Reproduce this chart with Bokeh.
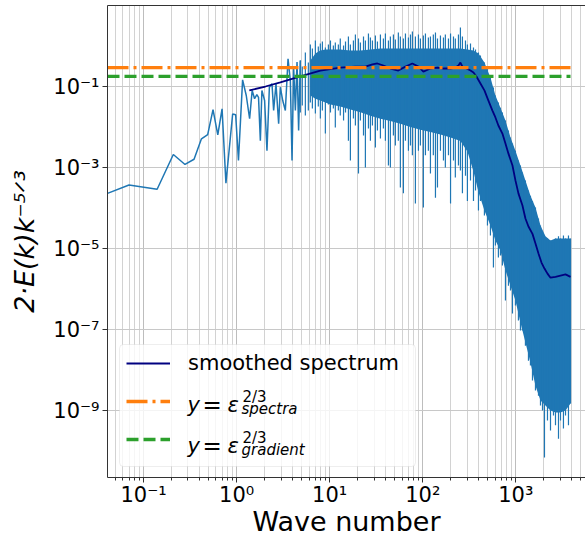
from bokeh.plotting import figure
from bokeh.models import (Range1d, LogAxis, FixedTicker, CustomJSTickFormatter,
                          Legend, LegendItem, Label, BoxAnnotation)
from bokeh.embed import file_html
from bokeh.resources import INLINE

# ---------------- data ----------------
# sparse low-wavenumber part of the raw spectrum
SPEC_LOW_K = [0.041, 0.0698, 0.140, 0.209, 0.279, 0.349, 0.419, 0.489, 0.558, 0.628,
              0.698, 0.768, 0.907, 0.977, 1.047, 1.16, 1.27, 1.38, 1.47, 1.56,
              1.65, 1.72, 1.80, 1.87, 2.00, 2.12, 2.25, 2.40, 2.50, 2.65,
              2.83, 2.95, 3.13, 3.34, 3.57, 3.78, 3.94, 4.10, 4.28, 4.46, 4.64]
SPEC_LOW_E = [2.3e-4, 3.7e-4, 2.9e-4, 2.1e-3, 1.19e-3, 1.6e-3, 5.1e-3, 6.5e-3, 2.7e-2, 6.4e-3,
              2.8e-2, 4.1e-4, 2.1e-2, 2.0e-2, 1.5e-3, 0.146, 0.06, 1.6e-2, 8.0e-2, 5.0e-2,
              6.3e-2, 5.4e-2, 4.6e-3, 8.0e-2, 4.5e-2, 2.6e-3, 9.6e-2, 0.117, 2.55e-2, 0.117,
              1.2e-2, 9.6e-2, 4.5e-2, 2.55e-2, 0.48, 0.14, 1.5e-3, 0.30, 2.55e-2, 0.40, 8.2e-3]

# dense part of the raw spectrum: local maxima / minima of the noisy curve
DENSE_K = [4.84, 5.08, 5.48, 5.90, 6.20, 6.52, 7.02, 7.55, 7.94, 8.35,
           8.99, 9.69, 10.2, 10.96, 11.5, 12.4, 13.0, 14.1, 14.8, 15.9,
           16.7, 18.0, 18.9, 20.4, 21.4, 23.1, 24.2, 26.1, 27.4, 28.8,
           31.0, 32.6, 35.1, 37.8, 39.7, 42.8, 44.9, 48.4, 50.8, 54.7,
           57.5, 62.0, 65.2, 70.2, 73.8, 77.4, 83.4, 89.9, 94.4, 101.6,
           106.9, 115, 121, 130, 137, 144, 155, 167, 175, 189,
           199, 214, 224, 242, 254, 267, 288, 302, 326, 351,
           369, 397, 417, 460, 496, 534, 575, 604, 650, 684,
           718, 774, 834, 877, 921, 991, 1067, 1122, 1179, 1269,
           1368, 1437, 1511, 1627, 1753, 1842, 1936, 2033, 2190, 2360,
           2541, 2670, 2876, 3022, 3251, 3421, 3681, 3873]
DENSE_TOP = [0.44, 0.31, 0.69, 0.39, 1.09, 0.87, 1.37, 0.97, 1.15, 1.29,
             0.92, 1.09, 1.37, 1.03, 1.22, 1.09, 1.53, 1.03, 1.29, 1.72,
             1.09, 1.37, 1.92, 1.53, 1.22, 1.72, 1.37, 2.04, 1.62, 1.37,
             1.82, 1.29, 1.92, 1.53, 2.04, 1.37, 1.72, 1.92, 1.45, 2.15,
             1.72, 1.53, 2.04, 1.62, 1.92, 2.28, 1.72, 1.92, 1.53, 1.82,
             2.04, 1.62, 1.72, 1.92, 2.15, 1.53, 1.82, 1.62, 1.92, 1.53,
             2.04, 1.72, 1.53, 1.92, 2.86, 1.72, 1.37, 1.09, 1.15, 0.92,
             0.82, 0.69, 0.58, 0.39, 0.28, 0.167, 0.094, 0.060, 0.040, 0.030,
             0.0228, 0.0145, 0.0082, 0.0055, 0.0039, 0.0026, 0.0015, 0.00112, 7.5e-4, 4.8e-4,
             2.7e-4, 2.0e-4, 1.5e-4, 1.03e-4, 5.5e-5, 3.7e-5, 2.5e-5, 2.0e-5, 1.77e-5, 1.58e-5,
             1.41e-5, 1.77e-5, 2.0e-5, 1.77e-5, 2.1e-5, 1.77e-5, 2.1e-5, 1.77e-5]
DENSE_BOT = [0.0228, 0.034, 0.0192, 0.0255, 0.040, 0.0286, 0.0216, 0.032, 0.0162, 0.0255,
             0.0069, 0.036, 0.0228, 0.0286, 0.0097, 0.0255, 0.0192, 0.0145, 0.0228, 0.0046,
             0.0015, 0.0162, 0.0109, 7.1e-4, 0.0145, 0.0062, 0.0010, 0.0092, 0.0046, 0.0109,
             0.0031, 0.0082, 0.0052, 0.0092, 0.0046, 0.00112, 0.0010, 0.0062, 0.0035, 0.0046,
             3.2e-4, 2.3e-4, 0.0046, 0.0026, 0.0035, 0.0020, 1.3e-4, 0.0026, 0.0035, 1.03e-4,
             0.0020, 0.0026, 7.1e-4, 0.0020, 1.8e-4, 3.2e-4, 0.0026, 0.0015, 0.0010, 0.0020,
             1.3e-4, 0.0015, 5.7e-4, 0.00112, 8.4e-4, 2.3e-4, 6.3e-4, 1.5e-4, 4.8e-4, 1.5e-4,
             2.7e-4, 8.7e-5, 1.5e-4, 6.5e-5, 3.7e-5, 2.1e-5, 3.4e-6, 1.19e-5, 6.0e-6, 6.7e-6,
             3.8e-6, 5.2e-7, 1.2e-6, 9.2e-7, 2.5e-7, 3.9e-7, 1.67e-7, 9.4e-8, 9.4e-8, 4.0e-8,
             1.7e-8, 1.3e-8, 5.5e-9, 3.1e-9, 2.3e-9, 1.33e-9, 1.0e-9, 6.9e-11, 5.7e-10, 3.2e-10,
             7.5e-10, 4.3e-10, 2.0e-10, 5.7e-10, 3.6e-10, 7.5e-10, 4.3e-10, 1.49e-9]

# solid core of the dense band (upper / lower edge)
CORE_K = [6.20, 7.02, 7.94, 8.99, 10.2, 13.0, 16.7, 21.4, 27.4,
          35.1, 44.9, 57.5, 73.8, 94.4, 121, 155, 199, 254, 302,
          351, 397, 460, 534, 604, 684, 774, 877, 991, 1122,
          1269, 1437, 1627, 1842, 2084, 2360, 2670, 3022, 3421, 3873]
CORE_HI = [0.44, 0.65, 0.77, 0.82, 0.82, 0.82, 0.77, 0.77, 0.82,
           0.87, 0.87, 0.87, 0.87, 0.87, 0.87, 0.87, 0.87, 0.87, 0.82,
           0.77, 0.65, 0.39, 0.167, 0.060, 0.030, 0.0145, 0.0055, 0.0026, 0.00112,
           4.8e-4, 2.0e-4, 1.03e-4, 3.7e-5, 2.0e-5, 1.58e-5, 1.77e-5, 1.77e-5, 1.77e-5, 1.77e-5]
CORE_LO = [0.060, 0.050, 0.045, 0.040, 0.036, 0.032, 0.027, 0.023, 0.019,
           0.016, 0.014, 0.012, 0.010, 0.0085, 0.0075, 0.0065, 0.0055, 0.0045, 0.0025,
           8.0e-4, 2.5e-4, 8.7e-5, 3.7e-5, 1.58e-5, 8.9e-6, 2.9e-6, 1.2e-6, 5.2e-7, 1.49e-7,
           4.8e-8, 1.53e-8, 4.1e-9, 1.77e-9, 1.33e-9, 1.0e-9, 8.9e-10, 8.9e-10, 1.0e-9, 1.49e-9]

# smoothed spectrum
SMOOTH_K = [1.37, 2.04, 2.95, 4.84, 7.94, 13.0, 18.9, 24.2, 28.8, 32.6,
            37.8, 44.9, 54.7, 65.2, 77.4, 89.9, 101.6, 121, 144, 167,
            199, 224, 242, 254, 267, 295, 326, 351, 378, 417,
            460, 508, 561, 604, 650, 718, 774, 834, 921, 991,
            1067, 1179, 1269, 1368, 1511, 1627, 1753, 1888, 2033, 2190,
            2360, 2670, 3022, 3421, 3873]
SMOOTH_E = [0.080, 0.100, 0.126, 0.177, 0.248, 0.294, 0.31, 0.31, 0.35, 0.37,
            0.33, 0.278, 0.248, 0.31, 0.37, 0.31, 0.234, 0.278, 0.294, 0.278,
            0.278, 0.294, 0.33, 0.39, 0.31, 0.278, 0.248, 0.222, 0.177, 0.119,
            0.080, 0.045, 0.0255, 0.0172, 0.0109, 0.0069, 0.0039, 0.0022, 0.00112, 4.8e-4,
            2.3e-4, 1.15e-4, 5.5e-5, 3.5e-5, 2.3e-5, 1.33e-5, 7.5e-6, 4.5e-6, 3.2e-6, 2.4e-6,
            1.9e-6, 2.0e-6, 2.15e-6, 2.3e-6, 2.0e-6]

EPS_SPECTRA = 0.294    # epsilon^(2/3) from spectra
EPS_GRADIENT = 0.177   # epsilon^(2/3) from gradient

X_TICKS = [0.1, 1, 10, 100, 1000]
X_MINOR = [0.05, 0.06, 0.07, 0.08, 0.09,
           0.2, 0.3, 0.4, 0.5, 0.6, 0.7, 0.8, 0.9,
           2, 3, 4, 5, 6, 7, 8, 9,
           20, 30, 40, 50, 60, 70, 80, 90,
           200, 300, 400, 500, 600, 700, 800, 900,
           2000, 3000, 4000, 5000]
Y_TICKS = [1e-9, 1e-7, 1e-5, 1e-3, 1e-1]

X_RANGE = (0.041, 5610)
Y_RANGE = (2.22e-11, 10.0)

FONT = "DejaVu Sans"
BLUE = "#1f77b4"

p = figure(width=585, height=540, x_axis_type="log", y_axis_type="log",
           x_range=Range1d(*X_RANGE), y_range=Range1d(*Y_RANGE),
           output_backend="svg", toolbar_location=None,
           min_border_left=107, min_border_right=0,
           min_border_top=5, min_border_bottom=63)
p.outline_line_color = None
p.background_fill_color = "white"
p.border_fill_color = "white"

fmt = CustomJSTickFormatter(code="""
const e = Math.round(Math.log10(tick));
const m = {'-':'\u207b','0':'\u2070','1':'\u00b9','2':'\u00b2','3':'\u00b3',
           '4':'\u2074','5':'\u2075','6':'\u2076','7':'\u2077','8':'\u2078','9':'\u2079'};
return '10' + String(e).split('').map(c => m[c]).join('');
""")

xt = FixedTicker(ticks=X_TICKS, minor_ticks=X_MINOR)
yt = FixedTicker(ticks=Y_TICKS, minor_ticks=[])
p.xaxis.ticker = xt
p.yaxis.ticker = yt
p.xgrid.ticker = xt
p.ygrid.ticker = yt

for ax in (p.xaxis[0], p.yaxis[0]):
    ax.formatter = fmt
    ax.axis_line_color = "#333333"
    ax.major_tick_line_color = "#333333"
    ax.minor_tick_line_color = "#333333"
    ax.major_tick_out = 5
    ax.major_tick_in = 0
    ax.minor_tick_out = 3
    ax.minor_tick_in = 0
    ax.major_label_text_font = FONT
    ax.major_label_text_font_size = "21px"
    ax.major_label_text_color = "black"
    ax.axis_label_text_font = FONT
    ax.axis_label_text_font_size = "27px"
    ax.axis_label_text_color = "black"

p.xaxis.axis_label = "Wave number"
p.xaxis.axis_label_text_font_style = "normal"
p.xaxis.major_label_standoff = 0
p.xaxis.axis_label_standoff = -4
p.yaxis.axis_label = "2\u00b7E(k)k\u207b\u2075\u141f\u00b3"
p.yaxis.axis_label_text_font_style = "italic"
p.yaxis.major_label_standoff = 3
p.yaxis.axis_label_standoff = 10

top_axis = LogAxis(ticker=FixedTicker(ticks=[], minor_ticks=[]),
                   axis_line_color="#333333", major_tick_line_color=None,
                   minor_tick_line_color=None, major_label_text_font_size="0px")
p.add_layout(top_axis, "above")

p.xgrid.grid_line_color = "#bdbdbd"
p.xgrid.minor_grid_line_color = "#d2d2d2"
p.ygrid.grid_line_color = "#c8c8c8"

# legend frame (semi-transparent, under the data but above the grid)
p.add_layout(BoxAnnotation(left=12, right=308, bottom=11, top=133,
                           left_units="screen", right_units="screen",
                           bottom_units="screen", top_units="screen",
                           fill_color="white", fill_alpha=0.8,
                           line_color="#c8c8c8", line_width=1,
                           border_radius=4, level="underlay"))

# ---------------- glyphs ----------------
p.varea(x=CORE_K, y1=CORE_LO, y2=CORE_HI, fill_color=BLUE)
# sparse part of the spectrum, joined to the first dense extreme
p.line(SPEC_LOW_K + DENSE_K[:1], SPEC_LOW_E + DENSE_TOP[:1],
       line_color=BLUE, line_width=1.5)
# dense part: each oscillation drawn from its minimum to its maximum
p.segment(x0=DENSE_K, y0=DENSE_BOT, x1=DENSE_K, y1=DENSE_TOP,
          line_color=BLUE, line_width=1.2)
r_s = p.line(SMOOTH_K, SMOOTH_E, line_color="#000080", line_width=1.8)
kspan = [SPEC_LOW_K[0], DENSE_K[-1]]
r_o = p.line(kspan, [EPS_SPECTRA, EPS_SPECTRA], line_color="#ff7f0e",
             line_width=3.3, line_dash="21 5 3 5")
r_g = p.line(kspan, [EPS_GRADIENT, EPS_GRADIENT], line_color="#2ca02c",
             line_width=3.3, line_dash="12 5")

legend = Legend(items=[LegendItem(label="smoothed spectrum", renderers=[r_s]),
                       LegendItem(label=" ", renderers=[r_o]),
                       LegendItem(label=" ", renderers=[r_g])],
                location=(19, 22), margin=0, padding=5, spacing=6,
                glyph_width=44, glyph_height=32, label_height=32,
                label_standoff=18, label_text_font=FONT,
                label_text_font_size="21px", label_text_color="black",
                border_line_color=None, background_fill_alpha=0)
p.add_layout(legend)


def mlabel(text, x, y, size="21px", style="normal"):
    p.add_layout(Label(x=x, y=y, x_units="screen", y_units="screen", text=text,
                       text_font=FONT, text_font_size=size, text_font_style=style,
                       text_baseline="alphabetic", text_align="left",
                       text_color="black"))


for base, sub in ((73, "spectra"), (32, "gradient")):
    mlabel("y", 80, base, style="italic")
    mlabel("=", 95, base, size="23px")
    mlabel("\u03b5", 120, base, style="italic")
    mlabel("2/3", 135, base + 8, size="15px")
    mlabel(sub, 134, base - 4, size="15px", style="italic")

open("out.html", "w").write(file_html(p, INLINE))
